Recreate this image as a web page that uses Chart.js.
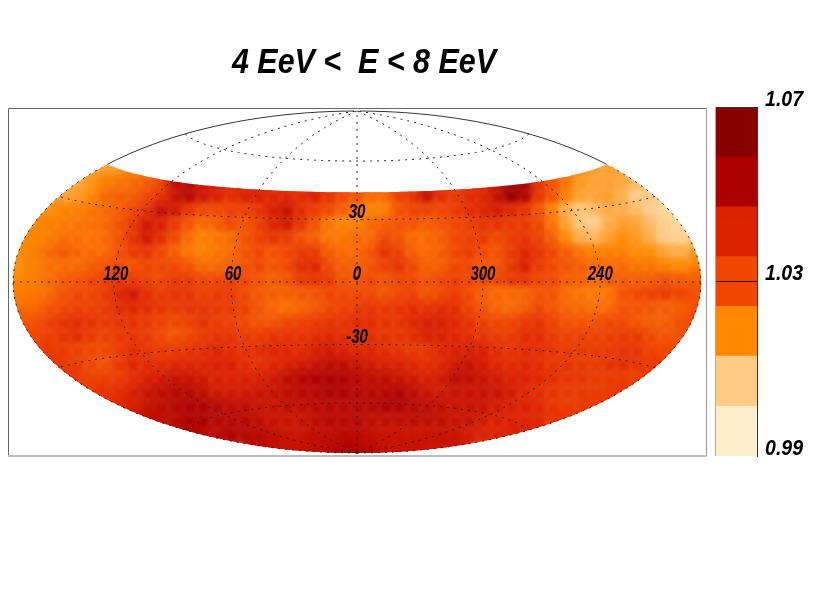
<!DOCTYPE html>
<html><head><meta charset="utf-8">
<style>html,body{margin:0;padding:0;background:#fff}canvas{position:absolute;left:0;top:0}#w{position:relative;width:830px;height:593px}</style>
<script src="https://cdn.jsdelivr.net/npm/chart.js@4/dist/chart.umd.min.js"></script>
</head><body><div id="w"><canvas id="map" width="830" height="593"></canvas><canvas id="bar" width="830" height="593"></canvas></div>
<script>
const titleText = '4 EeV <  E < 8 EeV';
const lonTicks = [120, 60, 0, 300, 240];
const latTicks = [30, -30];
const lonLines = [0, 60, 120, 180, 240, 300];
const latLines = [-60, -30, 0, 30, 60];
const barTicks = [0.99, 1.03, 1.07];
const bandEdges = [0.99, 1.0014, 1.0129, 1.0243, 1.0357, 1.0471, 1.0586, 1.07];
const bandColors = ['#ffeecc', '#ffcc88', '#ff8800', '#f04800', '#dd2200', '#aa0000', '#880000'];
// map sample positions (projected map units)
const gridX = [-335,-321,-307,-293,-279,-265,-251,-237,-223,-209,-195,-181,-167,-153,-139,-125,-111,-97,-83,-69,-55,-41,-27,-13,1,15,29,43,57,71,85,99,113,127,141,155,169,183,197,211,225,239,253,267,281,295,309,323,337];
const gridY = [112,98,84,70,56,42,28,14,0,-14,-28,-42,-56,-70,-84,-98,-112,-126,-140,-154,-168];
// intensity excess over 1, in thousandths; each row is centred on the map
const row112 = [13,14,16,18,20,null,null,null,null,null,null,null,null,null,null,null,null,null,null,null,null,null,null,null,null,null,null,null,null,null,null,null,null,null,20,18,15,14,13];
const row98 = [10,12,16,20,22,24,26,30,48,50,46,44,42,44,44,42,42,40,38,36,32,28,28,28,32,38,50,44,38,42,44,48,58,54,36,28,22,16,14,14,13,10,8];
const row84 = [14,14,15,18,24,26,26,30,36,46,50,45,42,38,42,42,40,40,38,42,36,30,28,24,24,32,36,46,38,34,38,40,46,58,52,36,28,20,14,14,15,12,7,7,6];
const row70 = [16,17,19,20,22,24,26,30,36,46,44,36,30,30,32,32,36,42,46,38,34,30,26,24,20,20,28,30,32,30,34,38,40,44,40,36,28,20,12,8,10,13,12,10,6,3,3];
const row56 = [18,18,20,21,22,23,24,28,34,44,42,34,28,24,26,30,28,32,40,44,36,28,22,19,20,24,26,28,28,26,28,30,32,36,36,34,34,30,22,14,8,6,12,15,14,10,6,3,5];
const row42 = [18,19,21,23,23,22,24,28,36,44,38,30,24,20,22,24,28,32,36,34,28,26,22,22,24,24,30,28,24,24,26,30,32,34,30,34,36,32,26,18,12,11,15,18,16,12,7,5,10];
const row28 = [18,20,24,27,25,24,24,28,34,36,30,26,22,20,22,24,28,30,28,30,34,34,26,24,24,28,36,32,26,24,26,30,34,30,28,34,40,36,30,26,22,20,20,20,18,18,14,12,14];
const row14 = [17,20,23,24,24,26,28,30,28,30,30,30,28,24,24,26,28,30,28,30,38,40,30,26,26,28,32,36,30,26,26,30,30,28,28,34,42,34,30,28,26,24,24,24,22,22,20,18,18];
const row0 = [18,20,24,26,28,30,32,36,34,32,30,34,34,30,30,32,30,28,26,28,34,36,34,28,28,30,28,30,30,28,30,32,30,30,30,34,36,30,30,26,26,24,26,26,26,26,28,26,24];
const rowM14 = [20,22,24,28,30,30,34,40,44,38,34,36,36,32,34,34,30,27,26,26,27,28,30,30,30,30,28,30,32,28,30,34,30,26,24,24,25,28,28,24,22,21,22,28,30,32,34,30,28];
const rowM28 = [22,24,28,30,32,32,34,38,40,38,36,34,36,36,34,34,32,28,25,23,25,27,30,32,34,36,34,36,38,36,38,38,32,28,25,24,26,30,28,25,24,23,24,28,28,28,26,26,28];
const rowM42 = [26,28,32,36,38,36,34,36,36,34,32,30,32,36,34,32,30,28,28,30,32,34,36,36,38,38,36,36,40,42,42,40,36,32,30,30,34,36,32,28,28,28,30,30,28,26,26,28,30];
const rowM56 = [30,30,32,36,38,34,32,34,36,34,30,28,30,34,36,36,34,34,36,36,36,38,40,38,38,38,36,36,38,42,42,40,38,36,34,34,38,38,34,32,32,32,32,34,34,30,28,28,30];
const rowM70 = [32,34,34,32,30,30,34,38,36,34,34,36,38,40,38,36,38,40,40,38,42,44,42,40,40,38,36,34,36,40,42,42,42,38,36,38,38,36,34,34,34,34,36,36,32,30,28];
const rowM84 = [36,34,34,30,28,34,40,38,38,40,40,40,42,42,38,36,40,42,44,46,48,48,46,44,42,42,40,38,40,44,46,44,40,38,40,38,36,36,34,34,36,38,36,34,32];
const rowM98 = [36,34,32,32,34,38,42,44,46,46,44,42,42,42,42,44,48,50,52,52,52,50,48,48,46,44,42,44,48,48,46,44,42,42,40,38,36,36,34,34,34,32,32];
const rowM112 = [36,36,38,42,46,48,50,50,48,44,44,44,46,46,48,50,50,52,52,50,50,50,52,48,46,44,46,46,46,46,44,40,38,36,34,34,34,34,32];
const rowM126 = [40,42,46,48,50,52,52,50,48,48,46,46,48,48,50,50,50,50,50,52,52,50,48,48,46,46,46,44,42,42,40,36,34,34,32];
const rowM140 = [46,48,50,52,52,50,50,50,48,46,46,46,48,50,50,50,48,48,48,48,48,48,46,46,44,42,42,40,40,36,36];
const rowM154 = [48,50,50,52,50,50,48,46,46,48,48,50,50,48,46,46,46,46,46,46,44,42,42,42,40];
const rowM168 = [50,48,46,46,48,48,50,52,50,48,46,46,46,44,44];
const rows = [row112,row98,row84,row70,row56,row42,row28,row14,row0,rowM14,rowM28,rowM42,rowM56,rowM70,rowM84,rowM98,rowM112,rowM126,rowM140,rowM154,rowM168];

const rimCells = [], innerCells = [];
rows.forEach((r, i) => {
  const off = (gridX.length - r.length) / 2;
  r.forEach((v, j) => {
    if (v === null) return;
    const rim = j === 0 || j === r.length - 1 || i === rows.length - 1;
    (rim ? rimCells : innerCells).push({x: gridX[off + j], y: gridY[i], v, rim});
  });
});
const cells = rimCells.concat(innerCells);

const stopV = [-4.3, 7.1, 18.6, 30, 41.4, 52.9, 64.3];
const stopC = bandColors.map(c => [1, 3, 5].map(k => parseInt(c.substr(k, 2), 16)));
function colorFor(v) {
  let i = 0;
  while (i < stopV.length - 2 && v > stopV[i + 1]) i++;
  const t = Math.max(0, Math.min(1, (v - stopV[i]) / (stopV[i + 1] - stopV[i])));
  const c = stopC[i].map((a, k) => Math.round(a + (stopC[i + 1][k] - a) * t));
  return `rgb(${c[0]},${c[1]},${c[2]})`;
}
// Hammer projection; right ascension grows to the left
const RX = 344, RY = 171, D2R = Math.PI / 180;
function hammer(l, dec) {
  const la = l * D2R / 2, p = dec * D2R, d = Math.sqrt(1 + Math.cos(p) * Math.cos(la));
  return {x: -RX * Math.cos(p) * Math.sin(la) / d, y: RY * Math.sin(p) / d};
}
const signedLon = ra => (ra > 180 ? ra - 360 : ra);
const DEC_MAX = 43.5;
function span(a, b, s) { const o = []; for (let t = a; s > 0 ? t <= b : t >= b; t += s) o.push(t); return o; }
const gratStyle = {type: 'scatter', showLine: true, pointRadius: 0, borderColor: '#222', borderWidth: 1, borderDash: [2, 5], fill: false, order: 1};
const gratSets = [];
lonLines.forEach(lon => {
  if (lon === 180) {
    [180, -180].forEach(l => {
      gratSets.push({...gratStyle, data: span(-90, DEC_MAX, 3).map(d => hammer(l, d))});
      gratSets.push({...gratStyle, borderDash: [], borderColor: '#333', data: span(DEC_MAX, 90, 2).map(d => hammer(l, d))});
    });
  } else {
    gratSets.push({...gratStyle, data: span(-90, 90, 3).map(d => hammer(signedLon(lon), d))});
  }
});
latLines.forEach(lat => gratSets.push({...gratStyle, data: span(-180, 180, 4).map(l => hammer(l, lat))}));

function narrowText(ctx, text, x, y, sx, align) {
  ctx.save();
  ctx.translate(x, y);
  ctx.scale(sx, 1);
  ctx.textAlign = align;
  ctx.textBaseline = 'middle';
  ctx.fillStyle = '#000';
  ctx.fillText(text, 0, 0);
  ctx.restore();
}
const FAM = '"Liberation Sans",sans-serif';
const mapPlugin = {
  id: 'mapPlugin',
  beforeDatasetDraw(chart, args) {
    if (args.index !== 0) return;
    const {ctx, scales: {x, y}} = chart;
    ctx.save();
    ctx.beginPath();
    span(-180, 180, 3).forEach((l, i) => { const p = hammer(l, DEC_MAX); ctx[i ? 'lineTo' : 'moveTo'](x.getPixelForValue(p.x), y.getPixelForValue(p.y)); });
    span(DEC_MAX, -90, -3).forEach(d => { const p = hammer(180, d); ctx.lineTo(x.getPixelForValue(p.x), y.getPixelForValue(p.y)); });
    span(-90, DEC_MAX, 3).forEach(d => { const p = hammer(-180, d); ctx.lineTo(x.getPixelForValue(p.x), y.getPixelForValue(p.y)); });
    ctx.closePath();
    ctx.clip();
    ctx.filter = 'blur(3px)';
  },
  afterDatasetDraw(chart, args) {
    if (args.index === 0) chart.ctx.restore();
  },
  afterDraw(chart) {
    const {ctx, scales: {x, y}} = chart;
    ctx.save();
    ctx.font = 'italic bold 35px ' + FAM;
    narrowText(ctx, titleText, 364, 63, 0.87, 'center');
    ctx.font = 'italic bold 19.5px ' + FAM;
    lonTicks.forEach(t => { const p = hammer(signedLon(t), 0); narrowText(ctx, String(t), x.getPixelForValue(p.x) + (t === 120 || t === 60 ? 2 : 0), y.getPixelForValue(p.y) - 7, 0.77, 'center'); });
    latTicks.forEach(t => { const p = hammer(0, t); narrowText(ctx, String(t), x.getPixelForValue(p.x), y.getPixelForValue(p.y) - 7, 0.77, 'center'); });
    ctx.lineWidth = 1;
    ctx.strokeStyle = '#666';
    ctx.beginPath();
    ctx.moveTo(8.5, 456); ctx.lineTo(8.5, 108.5); ctx.lineTo(706.5, 108.5);
    ctx.stroke();
    ctx.strokeStyle = '#999';
    ctx.beginPath(); ctx.moveTo(706.5, 108.5); ctx.lineTo(706.5, 456); ctx.stroke();
    ctx.strokeStyle = '#bbb'; ctx.lineWidth = 2;
    ctx.beginPath(); ctx.moveTo(8, 456); ctx.lineTo(707, 456); ctx.stroke();
    ctx.restore();
  }
};

new Chart(document.getElementById('map'), {
  type: 'scatter',
  data: {datasets: [{
    data: cells,
    order: 2,
    pointStyle: 'rect',
    pointRadius: c => (c.raw && c.raw.rim ? 22 : 13),
    pointBorderWidth: 0,
    pointBackgroundColor: c => colorFor(c.raw.v),
    clip: false
  }, ...gratSets]},
  plugins: [mapPlugin],
  options: {
    responsive: false,
    animation: false,
    events: [],
    layout: {autoPadding: false, padding: {left: 9, right: 123, top: 108, bottom: 137}},
    scales: {
      x: {type: 'linear', min: -348, max: 350, display: false},
      y: {type: 'linear', min: -174, max: 174, display: false}
    },
    plugins: {legend: {display: false}, tooltip: {enabled: false}}
  }
});

const barSets = bandColors.map((c, i) => ({data: [[bandEdges[i], bandEdges[i + 1]]], backgroundColor: c, borderWidth: 0, barPercentage: 1, categoryPercentage: 1, grouped: false}));
const barEdge = {
  id: 'barEdge',
  afterDraw(chart) {
    const {ctx, chartArea: a, scales: {y}} = chart;
    ctx.save();
    ctx.lineWidth = 1;
    ctx.strokeStyle = '#aaa';
    ctx.beginPath(); ctx.moveTo(a.left - .5, a.top); ctx.lineTo(a.left - .5, a.bottom); ctx.stroke();
    ctx.strokeStyle = '#333';
    ctx.beginPath(); ctx.moveTo(a.left, a.top + .5); ctx.lineTo(a.right, a.top + .5); ctx.stroke();
    ctx.font = 'italic bold 22px ' + FAM;
    barTicks.forEach(t => narrowText(ctx, t.toFixed(2), a.right + 8, y.getPixelForValue(t) - 7.5, 0.89, 'left'));
    ctx.restore();
  }
};
new Chart(document.getElementById('bar'), {
  type: 'bar',
  data: {labels: ['scale'], datasets: barSets},
  plugins: [barEdge],
  options: {
    responsive: false,
    animation: false,
    events: [],
    layout: {padding: {left: 716, right: 73, top: 107, bottom: 137}},
    scales: {
      x: {display: false},
      y: {
        position: 'right', min: 0.99, max: 1.07,
        afterBuildTicks: s => { s.ticks = barTicks.map(value => ({value})); },
        border: {display: true, color: '#443322', width: 1, z: 2},
        grid: {z: 1, drawTicks: false, color: c => (c.tick && c.tick.value === 1.03 ? '#221100' : 'transparent')},
        ticks: {display: false}
      }
    },
    plugins: {legend: {display: false}, tooltip: {enabled: false}}
  }
});
</script></body></html>
